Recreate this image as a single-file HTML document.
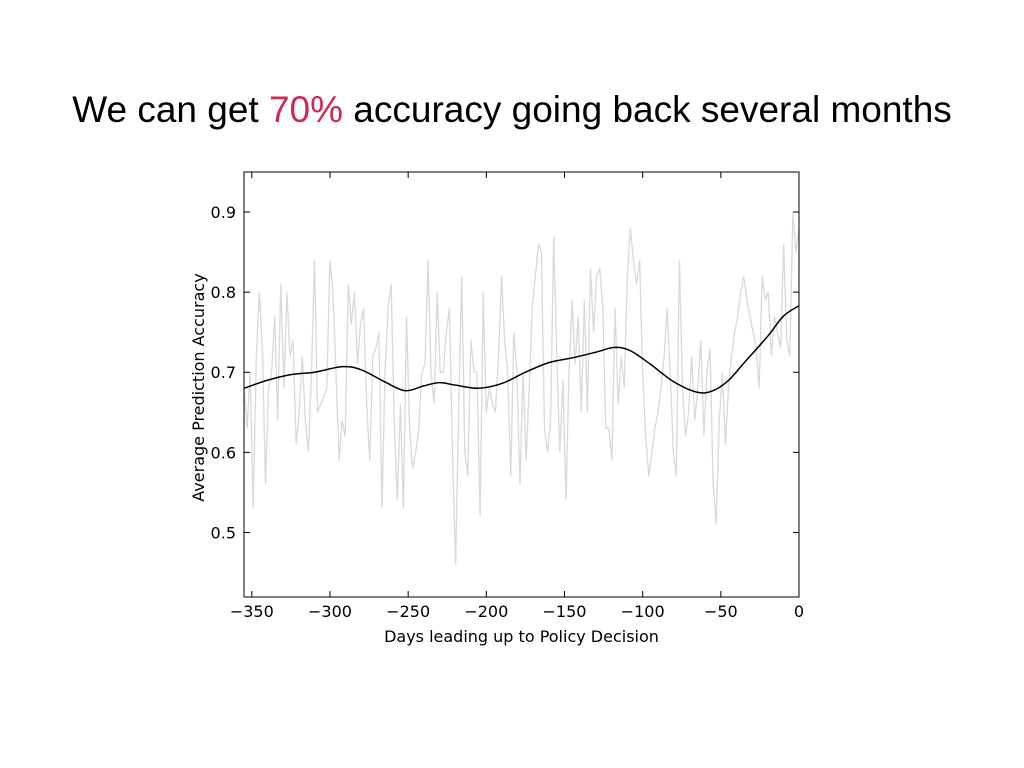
<!DOCTYPE html>
<html><head><meta charset="utf-8"><style>
body{margin:0;width:1024px;height:768px;background:#fff;overflow:hidden}
svg{display:block}
text{font-family:"DejaVu Sans","Liberation Sans",sans-serif}
</style></head><body>
<svg id="chart" width="1024" height="768">
<text x="512" y="122" text-anchor="middle" font-size="37" style="font-family:'Liberation Sans',sans-serif">We can get <tspan fill="#d0284f">70%</tspan> accuracy going back several months</text>
<g id="plot"></g>
</svg>
<script>
const rawValues=[0.68,0.63,0.70,0.53,0.72,0.80,0.73,0.56,0.68,0.70,0.77,0.64,0.81,0.68,0.80,0.72,0.74,0.61,0.65,0.72,0.64,0.60,0.70,0.84,0.65,0.66,0.67,0.68,0.84,0.80,0.70,0.59,0.64,0.62,0.81,0.76,0.80,0.71,0.76,0.78,0.66,0.59,0.72,0.73,0.75,0.53,0.70,0.78,0.81,0.64,0.54,0.66,0.53,0.77,0.63,0.58,0.60,0.63,0.70,0.71,0.84,0.70,0.66,0.80,0.70,0.70,0.75,0.78,0.60,0.46,0.65,0.82,0.60,0.57,0.74,0.70,0.70,0.52,0.80,0.65,0.68,0.66,0.65,0.72,0.82,0.74,0.70,0.57,0.75,0.70,0.56,0.70,0.59,0.68,0.78,0.82,0.86,0.85,0.63,0.60,0.64,0.87,0.72,0.60,0.69,0.54,0.70,0.79,0.71,0.77,0.65,0.79,0.65,0.83,0.75,0.82,0.83,0.78,0.63,0.63,0.59,0.78,0.66,0.72,0.68,0.82,0.88,0.84,0.81,0.84,0.70,0.62,0.57,0.60,0.63,0.65,0.68,0.72,0.78,0.70,0.60,0.57,0.84,0.68,0.62,0.65,0.72,0.64,0.68,0.74,0.62,0.70,0.73,0.56,0.51,0.64,0.70,0.61,0.68,0.72,0.75,0.77,0.80,0.82,0.79,0.77,0.75,0.73,0.68,0.82,0.79,0.80,0.72,0.77,0.75,0.73,0.86,0.74,0.72,0.90,0.85,0.88];
const smoothDays=[-355,-340,-325,-310,-292,-280,-265,-252,-240,-230,-220,-205,-190,-175,-160,-145,-130,-118,-108,-95,-80,-65,-55,-45,-35,-20,-10,0];
const smoothValues=[0.680,0.690,0.697,0.700,0.707,0.703,0.688,0.677,0.683,0.687,0.684,0.680,0.686,0.700,0.712,0.718,0.725,0.731,0.727,0.710,0.688,0.675,0.677,0.690,0.712,0.745,0.770,0.783];
const xTicks=[-350,-300,-250,-200,-150,-100,-50,0];
const yTicks=[0.5,0.6,0.7,0.8,0.9];
const L=244,R=799,T=172,B=597,xMin=-355,xMax=0,yMin=0.4194,yMax=0.95;
const sx=d=>L+(d-xMin)/(xMax-xMin)*(R-L);
const sy=v=>B-(v-yMin)/(yMax-yMin)*(B-T);
const NS="http://www.w3.org/2000/svg";
const g=document.getElementById('plot');
function mk(t,a){const e=document.createElementNS(NS,t);for(const k in a)e.setAttribute(k,a[k]);g.appendChild(e);return e;}
const n=rawValues.length;
let p=rawValues.map((v,i)=>{const d=xMin+i*(xMax-xMin)/(n-1);return (i?'L':'M')+sx(d).toFixed(1)+','+sy(v).toFixed(1);}).join('');
const raw=mk('path',{d:p,fill:'none',stroke:'#d9d9d9','stroke-width':1.3});


const pts=smoothDays.map((d,i)=>[sx(d),sy(smoothValues[i])]);
let sp='M'+pts[0][0]+','+pts[0][1];
for(let i=0;i<pts.length-1;i++){const p0=pts[Math.max(0,i-1)],p1=pts[i],p2=pts[i+1],p3=pts[Math.min(pts.length-1,i+2)];
sp+=`C${p1[0]+(p2[0]-p0[0])/6},${p1[1]+(p2[1]-p0[1])/6} ${p2[0]-(p3[0]-p1[0])/6},${p2[1]-(p3[1]-p1[1])/6} ${p2[0]},${p2[1]}`;}
const sm=mk('path',{d:sp,fill:'none',stroke:'#000','stroke-width':1.5});


const fr=mk('rect',{x:L,y:T,width:R-L,height:B-T,fill:'none',stroke:'#000','stroke-width':1});


xTicks.forEach(t=>{const x=sx(t);
mk('line',{x1:x,x2:x,y1:B,y2:B-6,stroke:'#000'});mk('line',{x1:x,x2:x,y1:T,y2:T+6,stroke:'#000'});
const tx=mk('text',{x:x,y:B+20,'text-anchor':'middle','font-size':16});tx.textContent=String(t).replace('-','\u2212');

});
yTicks.forEach(t=>{const y=sy(t);
mk('line',{x1:L,x2:L+6,y1:y,y2:y,stroke:'#000'});mk('line',{x1:R,x2:R-6,y1:y,y2:y,stroke:'#000'});
const tx=mk('text',{x:L-8,y:y+6,'text-anchor':'end','font-size':16});tx.textContent=t.toFixed(1);

});
const xt=mk('text',{x:(L+R)/2,y:642,'text-anchor':'middle','font-size':16});xt.textContent='Days leading up to Policy Decision';


const yt=mk('text',{x:0,y:0,'text-anchor':'middle','font-size':16,transform:`translate(204,${(T+B)/2+3}) rotate(-90)`});yt.textContent='Average Prediction Accuracy';


</script>
</body></html>
